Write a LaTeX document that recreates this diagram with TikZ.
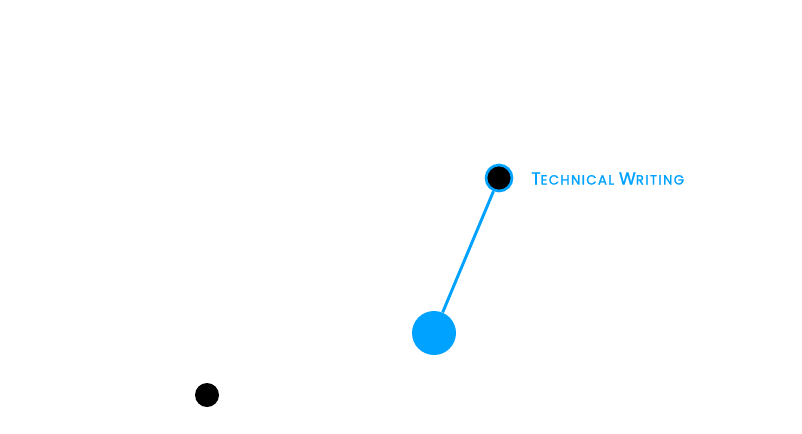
\documentclass[tikz,border=0pt]{standalone}
\usepackage{fontspec}
\setsansfont{Poppins}[LetterSpace=10, FakeBold=1.3]
\usepackage{tikz}
\usetikzlibrary{positioning}
\definecolor{skyblue}{HTML}{00A2FF}
\newcommand{\fakesc}[2]{{\fontsize{13}{14}\selectfont #1}{\fontsize{10}{11}\selectfont #2}}

\begin{document}
\begin{tikzpicture}[
    x=0.75pt, y=-0.75pt,
    bigdot/.style={circle, fill=skyblue, inner sep=0pt, minimum size=33pt},
    ringdot/.style={circle, fill=black, draw=skyblue, line width=2pt, inner sep=0pt, minimum size=19.5pt},
    plaindot/.style={circle, fill=black, inner sep=0pt, minimum size=18pt},
    link/.style={draw=skyblue, line width=2.2pt},
    label/.style={font=\sffamily, text=skyblue, anchor=base west, inner sep=0pt}
]
\useasboundingbox (0,0) rectangle (802,433);
\node[bigdot] (hub) at (434,333) {};
\node[ringdot] (tech) at (499,178) {};
\node[plaindot] (lone) at (207,395) {};
\node[label] (techtxt) at (531,184.5) {\fakesc{T}{ECHNICAL} \fakesc{W}{RITING}};

\draw[link] (hub) -- (tech);
\end{tikzpicture}
\end{document}
